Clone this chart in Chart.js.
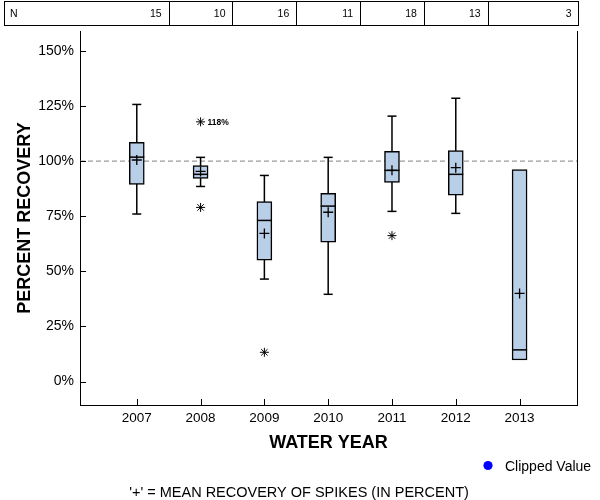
<!DOCTYPE html>
<html><head><meta charset="utf-8">
<script src="https://cdn.jsdelivr.net/npm/chart.js@4/dist/chart.umd.min.js"></script>
<style>html,body{margin:0;padding:0;background:#fff}</style>
</head><body>
<canvas id="c" width="600" height="500"></canvas>
<script>
// ---- data ----
const years = ['2007', '2008', '2009', '2010', '2011', '2012', '2013'];
const nCounts = [15, 10, 16, 11, 18, 13, 3];
const whiskerLow = [76.0, 88.5, 46.5, 39.6, 77.2, 76.3, null];
const q1 = [89.4, 92.2, 55.1, 63.2, 90.3, 84.5, 9.8];
const median = [101.8, 94.0, 73.1, 79.6, 95.8, 94.0, 14.4];
const q3 = [108.5, 98.0, 81.7, 85.4, 104.4, 104.8, 96.2];
const whiskerHigh = [125.7, 101.7, 93.5, 101.7, 120.4, 128.5, null];
const mean = [100.5, 95.3, 67.2, 76.8, 95.8, 97.0, 40.0];
const outlierYearIdx = [1, 1, 2, 4];
const outlierValues = [117.8, 79.0, 13.3, 66.2];
const labelledOutlier = 0; // index into outliers that carries a text label
const referenceValue = 100;
const yTickStep = 25;

const FONT = "Arial, 'Liberation Sans', sans-serif";
const BOX_FILL = '#b8cfe7';

const idx = years.map((_, i) => i);
const boxData = idx.map(i => ({x: i, y: [q1[i], q3[i]]}));
const whiskerData = [];
const capData = [];
idx.forEach(i => {
  if (whiskerLow[i] != null && whiskerHigh[i] != null) {
    whiskerData.push({x: i, y: whiskerLow[i]}, {x: i, y: whiskerHigh[i]}, {x: i, y: null});
    capData.push({x: i, y: whiskerLow[i]}, {x: i, y: whiskerHigh[i]});
  }
});
const medianData = idx.map(i => ({x: i, y: median[i]}));
const meanData = idx.map(i => ({x: i, y: mean[i]}));
const outlierData = outlierValues.map((v, k) => ({x: outlierYearIdx[k], y: v}));

const X_MIN = -0.89, X_MAX = 6.9;
const refData = [{x: X_MIN, y: referenceValue}, {x: X_MAX, y: referenceValue}];

const overlay = {
  id: 'overlay',
  afterDraw(chart) {
    const {ctx, chartArea: a, scales: {x, y}} = chart;
    ctx.save();
    ctx.strokeStyle = '#000';
    ctx.lineWidth = 1;
    ctx.beginPath();
    // right frame line
    ctx.moveTo(Math.round(a.right) + 0.5, a.top);
    ctx.lineTo(Math.round(a.right) + 0.5, a.bottom);
    // inward tick marks
    y.ticks.forEach(t => {
      const py = Math.round(y.getPixelForValue(t.value)) + 0.5;
      ctx.moveTo(a.left, py); ctx.lineTo(a.left + 6, py);
    });
    x.ticks.forEach(t => {
      const px = Math.round(x.getPixelForValue(t.value)) + 0.5;
      ctx.moveTo(px, a.bottom); ctx.lineTo(px, a.bottom - 6);
    });
    ctx.stroke();

    // N table
    const tTop = 1.5, tBot = 25.5, tLeft = 4.5, tRight = Math.round(a.right) + 1.5;
    ctx.strokeRect(tLeft, tTop, tRight - tLeft, tBot - tTop);
    ctx.beginPath();
    for (let i = 0; i < years.length - 1; i++) {
      const px = Math.round(x.getPixelForValue(i + 0.5)) + 0.5;
      ctx.moveTo(px, tTop); ctx.lineTo(px, tBot);
    }
    ctx.stroke();
    ctx.fillStyle = '#000';
    ctx.font = '10.5px ' + FONT;
    ctx.textBaseline = 'middle';
    ctx.textAlign = 'left';
    ctx.fillText('N', 10, 14);
    ctx.textAlign = 'right';
    nCounts.forEach((n, i) => {
      const edge = i < years.length - 1 ? x.getPixelForValue(i + 0.5) : tRight;
      ctx.fillText(String(n), edge - 7, 14);
    });

    // label on the high outlier
    const k = labelledOutlier;
    ctx.font = 'bold 8.5px ' + FONT;
    ctx.textAlign = 'left';
    ctx.fillText(Math.round(outlierValues[k]) + '%',
      x.getPixelForValue(outlierYearIdx[k]) + 7, y.getPixelForValue(outlierValues[k]) + 0.5);

    // legend
    ctx.fillStyle = '#0000ff';
    ctx.beginPath();
    ctx.arc(488, 465.5, 4.6, 0, Math.PI * 2);
    ctx.fill();
    ctx.fillStyle = '#000';
    ctx.font = '14px ' + FONT;
    ctx.textAlign = 'left';
    ctx.fillText('Clipped Value', 505, 467);

    // footnote
    ctx.font = '14.5px ' + FONT;
    ctx.textAlign = 'center';
    ctx.fillText("'+' = MEAN RECOVERY OF SPIKES (IN PERCENT)", 299, 493);
    ctx.restore();
  }
};

new Chart(document.getElementById('c'), {
  type: 'bar',
  data: {
    datasets: [
      {type: 'line', label: 'ref', data: refData, borderColor: '#808080', borderWidth: 1,
       borderDash: [5, 3], pointRadius: 0, order: 9},
      {type: 'line', label: 'whiskers', data: whiskerData, borderColor: '#000', borderWidth: 1.5,
       pointRadius: 0, spanGaps: false, order: 8},
      {type: 'scatter', label: 'caps', data: capData, pointStyle: 'line', pointRadius: 4.5,
       borderColor: '#000', pointBorderWidth: 1.5, borderWidth: 1.5, order: 7},
      {type: 'bar', label: 'box', data: boxData, backgroundColor: BOX_FILL, borderColor: '#000',
       borderWidth: 1.5, borderSkipped: false, barThickness: 15, order: 5},
      {type: 'scatter', label: 'median', data: medianData, pointStyle: 'line', pointRadius: 7.5,
       borderColor: '#000', borderWidth: 1.5, order: 2},
      {type: 'scatter', label: 'mean', data: meanData, pointStyle: 'cross', pointRadius: 5,
       borderColor: '#000', borderWidth: 1.3, order: 1},
      {type: 'scatter', label: 'outliers', data: outlierData, pointStyle: 'star', pointRadius: 4.5,
       borderColor: '#000', borderWidth: 1, order: 1}
    ]
  },
  options: {
    responsive: false,
    animation: false,
    events: [],
    layout: {padding: {top: 31, right: 23, left: 0, bottom: 0}},
    plugins: {legend: {display: false}, tooltip: {enabled: false}},
    scales: {
      x: {
        type: 'linear', min: X_MIN, max: X_MAX, offset: false,
        afterFit(s) { s.height = 95; },
        grid: {display: true, drawOnChartArea: false, drawTicks: false},
        border: {display: true, color: '#000', width: 1},
        ticks: {stepSize: 1, includeBounds: false, padding: 5, color: '#000',
                font: {family: FONT, size: 13.5},
                callback: v => years[v] !== undefined ? years[v] : ''},
        title: {display: true, text: 'WATER YEAR', color: '#000',
                font: {family: FONT, size: 18, weight: 'bold'}, padding: {top: 0, bottom: 46}}
      },
      y: {
        min: -10.6, max: 159,
        afterFit(s) { s.width = 80; },
        grid: {display: true, drawOnChartArea: false, drawTicks: false},
        border: {display: true, color: '#000', width: 1},
        ticks: {stepSize: yTickStep, includeBounds: false, padding: 6, color: '#000',
                font: {family: FONT, size: 14}, callback: v => v + '%'},
        title: {display: true, text: 'PERCENT RECOVERY', color: '#000',
                font: {family: FONT, size: 18, weight: 'bold'}, padding: {top: 14, bottom: 0}}
      }
    }
  },
  plugins: [overlay]
});
</script>
</body></html>
